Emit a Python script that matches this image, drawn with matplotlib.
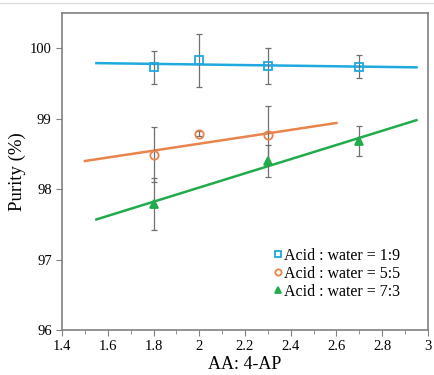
import numpy as np
import matplotlib.pyplot as plt
from matplotlib.ticker import MultipleLocator
from matplotlib.lines import Line2D

plt.rcParams['font.family'] = ['Liberation Serif', 'DejaVu Serif']

labels = ['Acid : water = 1:9', 'Acid : water = 5:5', 'Acid : water = 7:3']
colors = ['#1fa9de', '#e8844c', '#22ab4c']
markers = ['s', 'o', '^']
fills = ['none', 'none', None]

x_blue = [1.8, 2.0, 2.3, 2.7]
y_blue = [99.73, 99.83, 99.75, 99.74]
e_blue = [0.23, 0.38, 0.25, 0.16]

x_orange = [1.8, 2.0, 2.3]
y_orange = [98.49, 98.79, 98.77]
e_orange = [0.39, 0.03, 0.41]

x_green = [1.8, 2.3, 2.7]
y_green = [97.79, 98.40, 98.68]
e_green = [0.37, 0.23, 0.21]

# fitted trend lines (end points)
fit_x = [[1.55, 2.95], [1.5, 2.6], [1.55, 2.95]]
fit_y = [[99.79, 99.73], [98.40, 98.94], [97.57, 98.98]]

xs = [x_blue, x_orange, x_green]
ys = [y_blue, y_orange, y_green]
es = [e_blue, e_orange, e_green]

fig = plt.figure(figsize=(4.34, 3.75), dpi=100)
ax = fig.add_axes([0.143, 0.12, 0.843, 0.845])

# faint rule along the top of the image
fig.add_artist(Line2D([0, 1], [0.992, 0.992], transform=fig.transFigure,
                      color='#dddddd', lw=1))

for i in range(3):
    ax.plot(fit_x[i], fit_y[i], color=colors[i], lw=1.8, zorder=2)
    ax.errorbar(xs[i], ys[i], yerr=es[i], fmt='none', ecolor='#707070',
                elinewidth=0.9, capsize=2.5, capthick=0.9, zorder=3)
    mfc = colors[i] if fills[i] is None else 'none'
    ax.plot(xs[i], ys[i], linestyle='none', marker=markers[i], ms=6,
            mfc=mfc, mec=colors[i], mew=1.3, label=labels[i], zorder=4)

ax.set_xlim(1.4, 3.0)
ax.set_ylim(96, 100.5)
ax.set_xticks([1.4, 1.6, 1.8, 2.0, 2.2, 2.4, 2.6, 2.8, 3.0])
ax.set_xticklabels(['1.4', '1.6', '1.8', '2', '2.2', '2.4', '2.6', '2.8', '3'])
ax.xaxis.set_minor_locator(MultipleLocator(0.1))
ax.set_yticks([96, 97, 98, 99, 100])
ax.tick_params(direction='out', labelsize=10.5, color='#808080', length=4)
ax.tick_params(which='minor', direction='out', color='#808080', length=3)
for s in ax.spines.values():
    s.set_color('#808080')
    s.set_linewidth(1.2)

ax.set_xlabel('AA: 4-AP', fontsize=13, labelpad=2)
ax.set_ylabel('Purity (%)', fontsize=13.5, labelpad=3)

ax.legend(loc='lower right', frameon=False, fontsize=11.5, handlelength=0.5,
          handletextpad=0.15, borderaxespad=1.2, labelspacing=0.12,
          markerscale=0.75, bbox_to_anchor=(0.995, 0.015))

fig.savefig('out.png', dpi=100)
